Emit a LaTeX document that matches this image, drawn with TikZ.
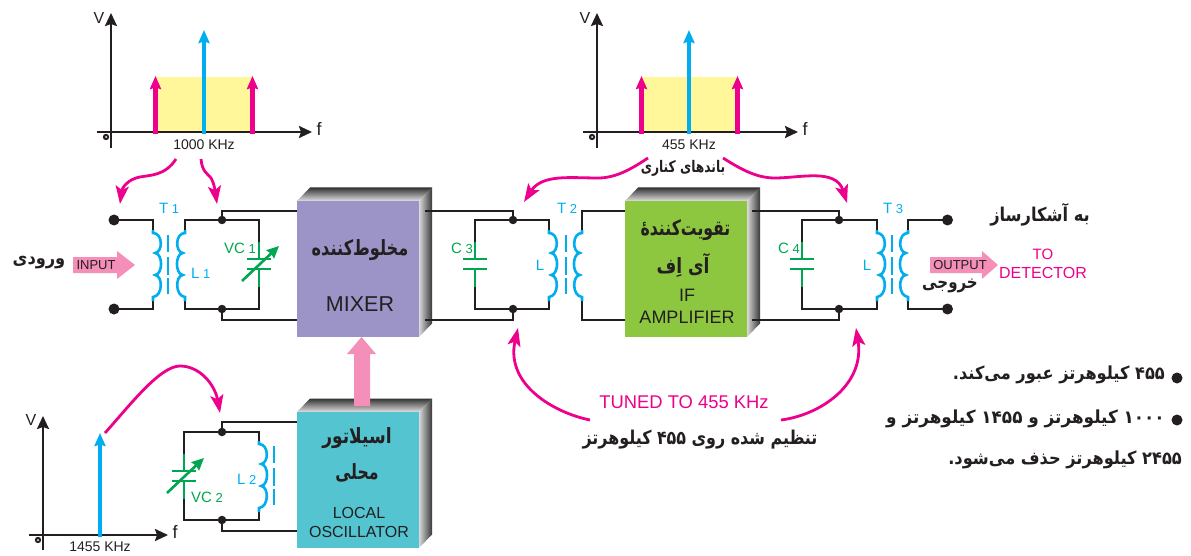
\documentclass[tikz,border=0pt]{standalone}
\usepackage{fontspec}
\usepackage{graphicx}
\usetikzlibrary{arrows.meta}
\setmainfont{Liberation Sans}
\newfontfamily\arabicfont[Script=Arabic]{DejaVu Sans Condensed Bold}
\TeXXeTstate=1
\definecolor{ink}{HTML}{231F20}
\definecolor{mag}{HTML}{EC008C}
\definecolor{sky}{HTML}{00AEEF}
\definecolor{grn}{HTML}{00A651}
\definecolor{fatpink}{HTML}{F48FBA}
\definecolor{band}{HTML}{FFF799}
\definecolor{mixfill}{HTML}{9C94C6}
\definecolor{iffill}{HTML}{8DC63F}
\definecolor{osfill}{HTML}{54C4D0}
\tikzset{
  wire/.style={draw=ink,line width=2.2pt,line join=miter},
  axisline/.style={draw=ink,line width=2.2pt,-{Stealth[length=13pt,width=12pt,inset=2pt]}},
  spikeM/.style={draw=mag,line width=4.4pt,-{Stealth[length=13pt,width=11pt,inset=1.5pt]}},
  spikeB/.style={draw=sky,line width=4.2pt,-{Stealth[length=13pt,width=11pt,inset=1.5pt]}},
  curveM/.style={draw=mag,line width=2.8pt,-{Stealth[length=18pt,width=13pt,inset=4pt]}},
  coilline/.style={draw=sky,line width=2.6pt},
  coreline/.style={draw=sky,line width=2.2pt},
  capline/.style={draw=grn,line width=2.2pt},
  capvar/.style={draw=grn,line width=2.6pt,-{Stealth[length=12pt,width=11pt,inset=1pt]}},
  junct/.style={circle,fill=ink,inner sep=0pt,minimum size=8.5pt},
  termin/.style={circle,fill=ink,inner sep=0pt,minimum size=11pt},
  boxfront/.style={rectangle,inner sep=0pt,minimum width=122pt,minimum height=136pt,fill=#1},
  en/.style={inner sep=0pt,text=ink,font=\fontsize{#1}{#1}\selectfont},
  enm/.style={inner sep=0pt,text=mag,font=\fontsize{#1}{#1}\selectfont},
  enb/.style={inner sep=0pt,text=sky,font=\fontsize{#1}{#1}\selectfont},
  eng/.style={inner sep=0pt,text=grn,font=\fontsize{#1}{#1}\selectfont},
  fa/.style={inner sep=0pt,text=ink,font=\arabicfont\fontsize{#1}{#1}\selectfont},
  coilpic/.pic={
    \draw[coilline] (0,0) -- (0,3)
      .. controls (10,3) and (10,22) .. (2.2,23)
      .. controls (10,24) and (10,44) .. (2.2,45)
      .. controls (10,46) and (10,66) .. (0,67) -- (0,71);
  },
  corepic/.pic={
    \draw[coreline] (0,5) -- (0,22);
    \draw[coreline] (0,27) -- (0,45);
    \draw[coreline] (0,48) -- (0,64);
  },
  capfix/.pic={
    \draw[capline] (0,0) -- (0,17);
    \draw[capline] (0,27) -- (0,45);
    \draw[capline] (-12,17) -- (12,17);
    \draw[capline] (-12,27) -- (12,27);
  },
  capadj/.pic={
    \draw[capline] (0,0) -- (0,17);
    \draw[capline] (0,27) -- (0,45);
    \draw[capline] (-12,17) -- (12,17);
    \draw[capline] (-12,27) -- (12,27);
    \draw[capvar] (-17,39) -- (20,4);
  },
  originmark/.pic={
    \fill[ink] (0,0) circle (3.2);
    \fill[white] (0,0) circle (1);
  },
}
\newcommand{\cube}[4]{% name, x, y, front colour
  \path[top color=black!80,bottom color=black!12] (#2,#3) -- (#2+13,#3-13.5) -- (#2+135,#3-13.5) -- (#2+122,#3) -- cycle;
  \path[left color=black!15,right color=black!78] (#2+122,#3) -- (#2+135,#3-13.5) -- (#2+135,#3+122.5) -- (#2+122,#3+136) -- cycle;
  \node[boxfront=#4,anchor=north west] (#1) at (#2,#3) {};
}
\newcommand{\fx}[2]{\scalebox{#1}[1]{#2}}
\newcommand{\gapT}{\hspace{3.5pt}\fontsize{13}{13}\selectfont}
\begin{document}
\begin{tikzpicture}[x=1pt,y=-1pt]
\useasboundingbox (0,0) rectangle (1191,556);

% ---- spectrum 1
\fill[band] (155,77) rectangle (252,132);
\coordinate (a1o) at (111,148); \coordinate (a1t) at (111,13);
\coordinate (a1l) at (97,132); \coordinate (a1r) at (312,132);
\draw[axisline] (a1o) -- (a1t);
\draw[axisline] (a1l) -- (a1r);
\pic at (106,137) {originmark};
\coordinate (s1a) at (155.5,134); \coordinate (s1at) at (155.5,76);
\coordinate (s1b) at (252.5,134); \coordinate (s1bt) at (252.5,76);
\coordinate (s1c) at (204,134); \coordinate (s1ct) at (204,30);
\draw[spikeM] (s1a) -- (s1at);
\draw[spikeM] (s1b) -- (s1bt);
\draw[spikeB] (s1c) -- (s1ct);
\node[en=16] (v1) at (99,18) {V};
\node[en=18] (f1) at (319,129) {f};
\node[en=14] (k1) at (204,145) {1000 KHz};

% ---- spectrum 2
\fill[band] (641,77) rectangle (737,132);
\coordinate (a2o) at (597,148); \coordinate (a2t) at (597,13);
\coordinate (a2l) at (583,132); \coordinate (a2r) at (798,132);
\draw[axisline] (a2o) -- (a2t);
\draw[axisline] (a2l) -- (a2r);
\pic at (592,137) {originmark};
\coordinate (s2a) at (641.5,134); \coordinate (s2at) at (641.5,76);
\coordinate (s2b) at (737.5,134); \coordinate (s2bt) at (737.5,76);
\coordinate (s2c) at (689,134); \coordinate (s2ct) at (689,30);
\draw[spikeM] (s2a) -- (s2at);
\draw[spikeM] (s2b) -- (s2bt);
\draw[spikeB] (s2c) -- (s2ct);
\node[en=16] (v2) at (585,18) {V};
\node[en=18] (f2) at (805,129) {f};
\node[en=14] (k2) at (689,145) {455 KHz};

% ---- spectrum 3
\coordinate (a3o) at (43,550); \coordinate (a3t) at (43,416);
\coordinate (a3l) at (29,535); \coordinate (a3r) at (168,535);
\draw[axisline] (a3o) -- (a3t);
\draw[axisline] (a3l) -- (a3r);
\pic at (38,540) {originmark};
\coordinate (s3c) at (100,537); \coordinate (s3ct) at (100,433);
\draw[spikeB] (s3c) -- (s3ct);
\node[en=16] (v3) at (31,420) {V};
\node[en=18] (f3) at (175,532) {f};
\node[en=14] (k3) at (100,547) {1455 KHz};

% ---- boxes
\cube{mixer}{297}{201}{mixfill}
\cube{ifamp}{625}{201}{iffill}
\cube{losc}{297}{412}{osfill}

% ---- wires: input stage
\node[termin] (t1a) at (114,220) {};
\node[termin] (t1b) at (114,309) {};
\node[junct] (j1a) at (222,220) {};
\node[junct] (j1b) at (222,309) {};
\coordinate (c1pa) at (153,230); \coordinate (c1pb) at (153,301);
\coordinate (c1sa) at (185,230); \coordinate (c1sb) at (185,301);
\coordinate (vc1a) at (259,242); \coordinate (vc1b) at (259,287);
\coordinate (mi1) at (297,211); \coordinate (mi2) at (297,320);
\draw[wire] (t1a.center) -| (c1pa);
\draw[wire] (t1b.center) -| (c1pb);
\draw[wire] (c1sa) |- (j1a.center) -| (vc1a);
\draw[wire] (c1sb) |- (j1b.center) -| (vc1b);
\draw[wire] (j1a.center) |- (mi1);
\draw[wire] (j1b.center) |- (mi2);
\pic at (c1pa) {coilpic};
\pic[xscale=-1] at (c1sa) {coilpic};
\pic at (168,230) {corepic};
\pic at (vc1a) {capadj};
\node[enb=15,anchor=west] (T1) at (159,208) {T\gapT 1};
\node[enb=15,anchor=west] (L1) at (191,273) {L\gapT 1};
\node[eng=15,anchor=west] (VC1) at (224,248) {VC\gapT 1};

% ---- wires: IF input
\node[junct] (j2a) at (513,220) {};
\node[junct] (j2b) at (513,309) {};
\coordinate (mo1) at (425,211); \coordinate (mo2) at (425,320);
\coordinate (c2pa) at (549,230); \coordinate (c2pb) at (549,301);
\coordinate (c2sa) at (582,230); \coordinate (c2sb) at (582,301);
\coordinate (c3a) at (475,242); \coordinate (c3b) at (475,287);
\coordinate (ia1) at (625,211); \coordinate (ia2) at (625,320);
\draw[wire] (mo1) -| (j2a.center);
\draw[wire] (mo2) -| (j2b.center);
\draw[wire] (c3a) |- (j2a.center) -| (c2pa);
\draw[wire] (c3b) |- (j2b.center) -| (c2pb);
\draw[wire] (c2sa) |- (ia1);
\draw[wire] (c2sb) |- (ia2);
\pic at (c3a) {capfix};
\pic at (c2pa) {coilpic};
\pic[xscale=-1] at (c2sa) {coilpic};
\pic at (566,230) {corepic};
\node[eng=15,anchor=west] (C3) at (451,248) {C\gapT 3};
\node[enb=15] (Lb) at (540,265) {L};
\node[enb=15,anchor=west] (T2) at (557,208) {T\gapT 2};

% ---- wires: IF output
\node[junct] (j3a) at (839,220) {};
\node[junct] (j3b) at (839,309) {};
\node[termin] (t3a) at (947.5,220) {};
\node[termin] (t3b) at (947.5,309) {};
\coordinate (io1) at (752,211); \coordinate (io2) at (752,320);
\coordinate (c4pa) at (877,230); \coordinate (c4pb) at (877,301);
\coordinate (c4sa) at (908,230); \coordinate (c4sb) at (908,301);
\coordinate (c4a) at (802,242); \coordinate (c4b) at (802,287);
\draw[wire] (io1) -| (j3a.center);
\draw[wire] (io2) -| (j3b.center);
\draw[wire] (c4a) |- (j3a.center) -| (c4pa);
\draw[wire] (c4b) |- (j3b.center) -| (c4pb);
\draw[wire] (c4sa) |- (t3a.center);
\draw[wire] (c4sb) |- (t3b.center);
\pic at (c4a) {capfix};
\pic at (c4pa) {coilpic};
\pic[xscale=-1] at (c4sa) {coilpic};
\pic at (892,230) {corepic};
\node[eng=15,anchor=west] (C4) at (778,248) {C\gapT 4};
\node[enb=15] (Lc) at (867,265) {L};
\node[enb=15,anchor=west] (T3) at (883,208) {T\gapT 3};

% ---- wires: local oscillator
\node[junct] (j4a) at (222,432) {};
\node[junct] (j4b) at (222,520) {};
\coordinate (lo1) at (297,422); \coordinate (lo2) at (297,531);
\coordinate (vc2a) at (184,454); \coordinate (vc2b) at (184,499);
\coordinate (c5a) at (259,442); \coordinate (c5b) at (259,512);
\draw[wire] (j4a.center) |- (lo1);
\draw[wire] (j4b.center) |- (lo2);
\draw[wire] (vc2a) |- (j4a.center) -| (c5a);
\draw[wire] (vc2b) |- (j4b.center) -| (c5b);
\pic at (vc2a) {capadj};
\pic at (259,441) {coilpic};
\pic at (274,441) {corepic};
\node[enb=15,anchor=west] (L2) at (237,479) {L\gapT 2};
\node[eng=15,anchor=west] (VC2) at (191,497) {VC\gapT 2};

% ---- fat arrows
\fill[fatpink] (73,257) -- (117,257) -- (117,251) -- (135,265) -- (117,279) -- (117,273) -- (73,273) -- cycle;
\fill[fatpink] (930,257) -- (982,257) -- (982,251) -- (998,265) -- (982,279) -- (982,273) -- (930,273) -- cycle;
\fill[fatpink] (354,406) -- (354,354) -- (347,354) -- (361.5,337) -- (376,354) -- (370,354) -- (370,406) -- cycle;
\node[en=13] (inp) at (96,265) {INPUT};
\node[en=13] (outp) at (960,265) {OUTPUT};

% ---- curved pointers
\coordinate (pa) at (176,159); \coordinate (pat) at (120,204);
\coordinate (pb) at (201,159); \coordinate (pbt) at (217,204);
\coordinate (pc) at (648,158); \coordinate (pct) at (524,202);
\coordinate (pd) at (723,158); \coordinate (pdt) at (847,203);
\coordinate (pe) at (105,433); \coordinate (pet) at (220,413);
\coordinate (pf) at (590,420); \coordinate (pft) at (518,328);
\coordinate (pg) at (781,420); \coordinate (pgt) at (856,328);
\draw[curveM] (pa) .. controls (165,176) and (150,175) .. (140,177) .. controls (128,179) and (122,188) .. (pat);
\draw[curveM] (pb) .. controls (202,172) and (208,174) .. (211,178) .. controls (214,183) and (215,190) .. (pbt);
\draw[curveM] (pc) .. controls (630,170) and (615,178) .. (598,178) .. controls (570,178) and (542,174) .. (pct);
\draw[curveM] (pd) .. controls (742,170) and (757,178) .. (775,178) .. controls (800,178) and (836,168) .. (pdt);
\draw[curveM] (pe) .. controls (130,405) and (160,366) .. (180,366) .. controls (200,366) and (215,385) .. (pet);
\draw[curveM] (pf) .. controls (555,413) and (505,385) .. (pft);
\draw[curveM] (pg) .. controls (820,415) and (865,385) .. (pgt);

% ---- box texts
\node[fa=21] (mixfa) at (360,250) {\fx{.855}{\beginR مخلوط‌کننده\endR}};
\node[en=21.5] (mixen) at (360,304) {MIXER};
\node[fa=21] (iffa1) at (685.5,230) {\fx{.83}{\beginR تقویت‌کنندهٔ\endR}};
\node[fa=21] (iffa2) at (683,265) {\fx{.9}{\beginR آی اِف\endR}};
\node[en=18] (ifen1) at (687,295) {IF};
\node[en=18] (ifen2) at (687,317) {AMPLIFIER};
\node[fa=21] (osfa1) at (357,438) {\fx{.9}{\beginR اسیلاتور\endR}};
\node[fa=21] (osfa2) at (357,473) {\fx{.83}{\beginR محلی\endR}};
\node[en=16] (osen1) at (359,513) {LOCAL};
\node[en=16] (osen2) at (359,532) {OSCILLATOR};

% ---- free texts
\node[fa=18] (inf) at (39,263) {\beginR ورودی\endR};
\node[fa=16] (sbf) at (683,168) {\fx{.85}{\beginR باندهای کناری\endR}};
\node[fa=19] (tof) at (1040,215) {\fx{.95}{\beginR به آشکارساز\endR}};
\node[fa=18] (ouf) at (950,286) {\fx{.93}{\beginR خروجی\endR}};
\node[enm=15] (toen) at (1043,254) {TO};
\node[enm=16] (deten) at (1043,273) {DETECTOR};
\node[enm=18.4] (tuen) at (684,402) {TUNED TO 455 KHz};
\node[fa=19] (tuf) at (700,440) {\fx{.93}{\beginR تنظیم شده روی \beginL ۴۵۵\endL{} کیلوهرتز\endR}};

\node[termin] (bl1) at (1177,378) {};
\node[termin] (bl2) at (1177,420) {};
\node[fa=18,anchor=east] (ln1) at (1165,375) {\beginR \beginL ۴۵۵\endL{} کیلوهرتز عبور می‌کند.\endR};
\node[fa=18,anchor=east] (ln2) at (1165,419) {\fx{1.04}{\beginR \beginL ۱۰۰۰\endL{} کیلوهرتز و \beginL ۱۴۵۵\endL{} کیلوهرتز و\endR}};
\node[fa=18,anchor=east] (ln3) at (1182,460) {\beginR \beginL ۲۴۵۵\endL{} کیلوهرتز حذف می‌شود.\endR};
\end{tikzpicture}
\end{document}
